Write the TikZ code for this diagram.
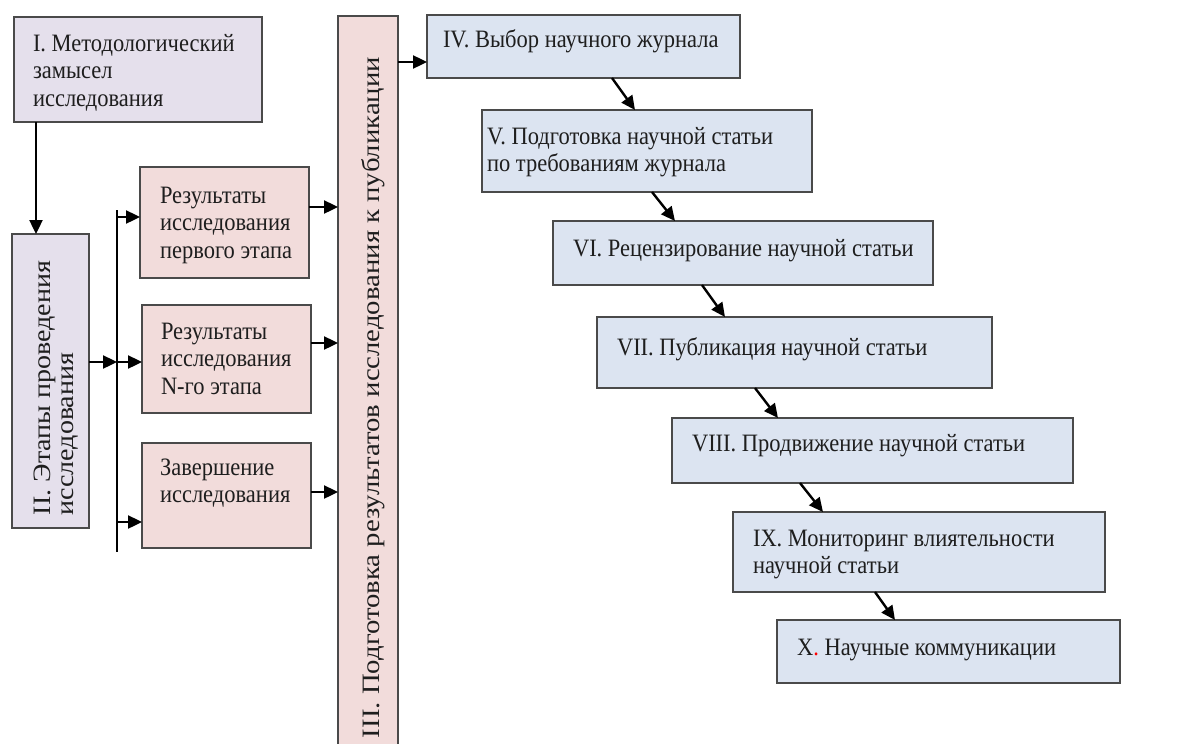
\documentclass[tikz,border=0pt]{standalone}
\usepackage{fontspec}
\setmainfont{Liberation Serif}[FakeStretch=0.9]
\newfontfamily\rotfont{Liberation Serif}[FakeStretch=1.12]
\newfontfamily\rotfontb{Liberation Serif}[FakeStretch=1.15]
\usetikzlibrary{arrows.meta,calc}
\definecolor{lav}{HTML}{E5E0EC}
\definecolor{pinkf}{HTML}{F2DCDB}
\definecolor{bluef}{HTML}{DCE4F1}
\definecolor{bord}{HTML}{4A4A4A}
\definecolor{txtc}{HTML}{1E1E1E}
\newcommand\ml[1]{\vtop{\halign{##\hfil\cr#1\crcr}}}
\begin{document}
\begin{tikzpicture}[x=1pt,y=-1pt,
  box/.style={draw=bord, line width=1.4pt, inner sep=0pt, outer sep=0pt, anchor=north west},
  txt/.style={anchor=base west, inner sep=0pt, outer sep=0pt, text=txtc, font=\fontsize{25}{27.5}\selectfont},
  rtxt/.style={anchor=base west, inner sep=0pt, outer sep=0pt, text=txtc, rotate=90, font=\rotfont\fontsize{25}{23}\selectfont},
  arr/.style={line width=2.4pt, -{Triangle[length=14pt,width=13pt]}},
]
\clip (0,0) rectangle (1189,744);
\fill[white] (0,0) rectangle (1189,744);
% boxes
\node[box, fill=lav, minimum width=248pt, minimum height=105pt] (b1) at (14,17) {};
\node[box, fill=lav, minimum width=77pt, minimum height=294pt] (b2) at (12,234) {};
\node[box, fill=pinkf, minimum width=169pt, minimum height=111pt] (r1) at (140,167) {};
\node[box, fill=pinkf, minimum width=169pt, minimum height=108pt] (rn) at (142,305) {};
\node[box, fill=pinkf, minimum width=169pt, minimum height=105pt] (rz) at (142,443) {};
\node[box, fill=pinkf, minimum width=60pt, minimum height=760pt] (b3) at (338,16) {};
\node[box, fill=bluef, minimum width=313pt, minimum height=63pt] (b4) at (427,15) {};
\node[box, fill=bluef, minimum width=330pt, minimum height=82pt] (b5) at (482,110) {};
\node[box, fill=bluef, minimum width=380pt, minimum height=64pt] (b6) at (553,221) {};
\node[box, fill=bluef, minimum width=395pt, minimum height=71pt] (b7) at (597,317) {};
\node[box, fill=bluef, minimum width=401pt, minimum height=65pt] (b8) at (672,418) {};
\node[box, fill=bluef, minimum width=372pt, minimum height=80pt] (b9) at (733,512) {};
\node[box, fill=bluef, minimum width=343pt, minimum height=63pt] (b10) at (777,620) {};
% texts
\node[txt] (t1) at (33,51) {\ml{I. Методологический\cr замысел\cr исследования}};
\node[rtxt] (t2) at (50,515) {\ml{II. Этапы проведения\cr исследования}};
\node[txt] (tr1) at (160,203) {\ml{Результаты\cr исследования\cr первого этапа}};
\node[txt] (trn) at (161,339) {\ml{Результаты\cr исследования\cr N-го этапа}};
\node[txt] (trz) at (160,475) {\ml{Завершение\cr исследования}};
\node[rtxt, font=\rotfontb\fontsize{25}{23}\selectfont] (t3) at (379,738) {III. Подготовка результатов исследования к публикации};
\node[txt] (t4) at (443,47) {IV. Выбор научного журнала};
\node[txt] (t5) at (487,144) {\ml{V. Подготовка научной статьи\cr по требованиям журнала}};
\node[txt] (t6) at (573,256) {VI. Рецензирование научной статьи};
\node[txt] (t7) at (617,355) {VII. Публикация научной статьи};
\node[txt] (t8) at (692,451) {VIII. Продвижение научной статьи};
\node[txt] (t9) at (753,546) {\ml{IX. Мониторинг влиятельности\cr научной статьи}};
\node[txt] (t10) at (797,655) {X\textcolor{red}{.} Научные коммуникации};
% bracket
\coordinate (bt) at (117,210);
\coordinate (bb) at (117,552);
\draw[line width=1.8pt] (bt) -- (bb);
\coordinate (k1) at (117,217);
\coordinate (k2) at (117,362);
\coordinate (k3) at (117,522);
\coordinate (m1) at (0,207);
\coordinate (m2) at (0,343);
\coordinate (m3) at (0,492);
\coordinate (m4) at (0,62);
% arrows
\draw[arr] ($(b1.south west)+(22,0)$) -- ($(b2.north west)+(24,0)$);
\draw[arr] (k2 -| b2.east) -- (k2);
\draw[arr] (k1) -- (k1 -| r1.west);
\draw[arr] (k2) -- (k2 -| rn.west);
\draw[arr] (k3) -- (k3 -| rz.west);
\draw[arr] (r1.east |- m1) -- (b3.west |- m1);
\draw[arr] (rn.east |- m2) -- (b3.west |- m2);
\draw[arr] (rz.east |- m3) -- (b3.west |- m3);
\draw[arr] (b3.east |- m4) -- (b4.west |- m4);
\draw[arr] ($(b4.south west)+(185,0)$) -- ($(b5.north west)+(153,0)$);
\draw[arr] ($(b5.south west)+(170,0)$) -- ($(b6.north west)+(122,0)$);
\draw[arr] ($(b6.south west)+(149,0)$) -- ($(b7.north west)+(128,0)$);
\draw[arr] ($(b7.south west)+(158,0)$) -- ($(b8.north west)+(106,0)$);
\draw[arr] ($(b8.south west)+(128,0)$) -- ($(b9.north west)+(90,0)$);
\draw[arr] ($(b9.south west)+(142,0)$) -- ($(b10.north west)+(118,0)$);
\end{tikzpicture}
\end{document}
